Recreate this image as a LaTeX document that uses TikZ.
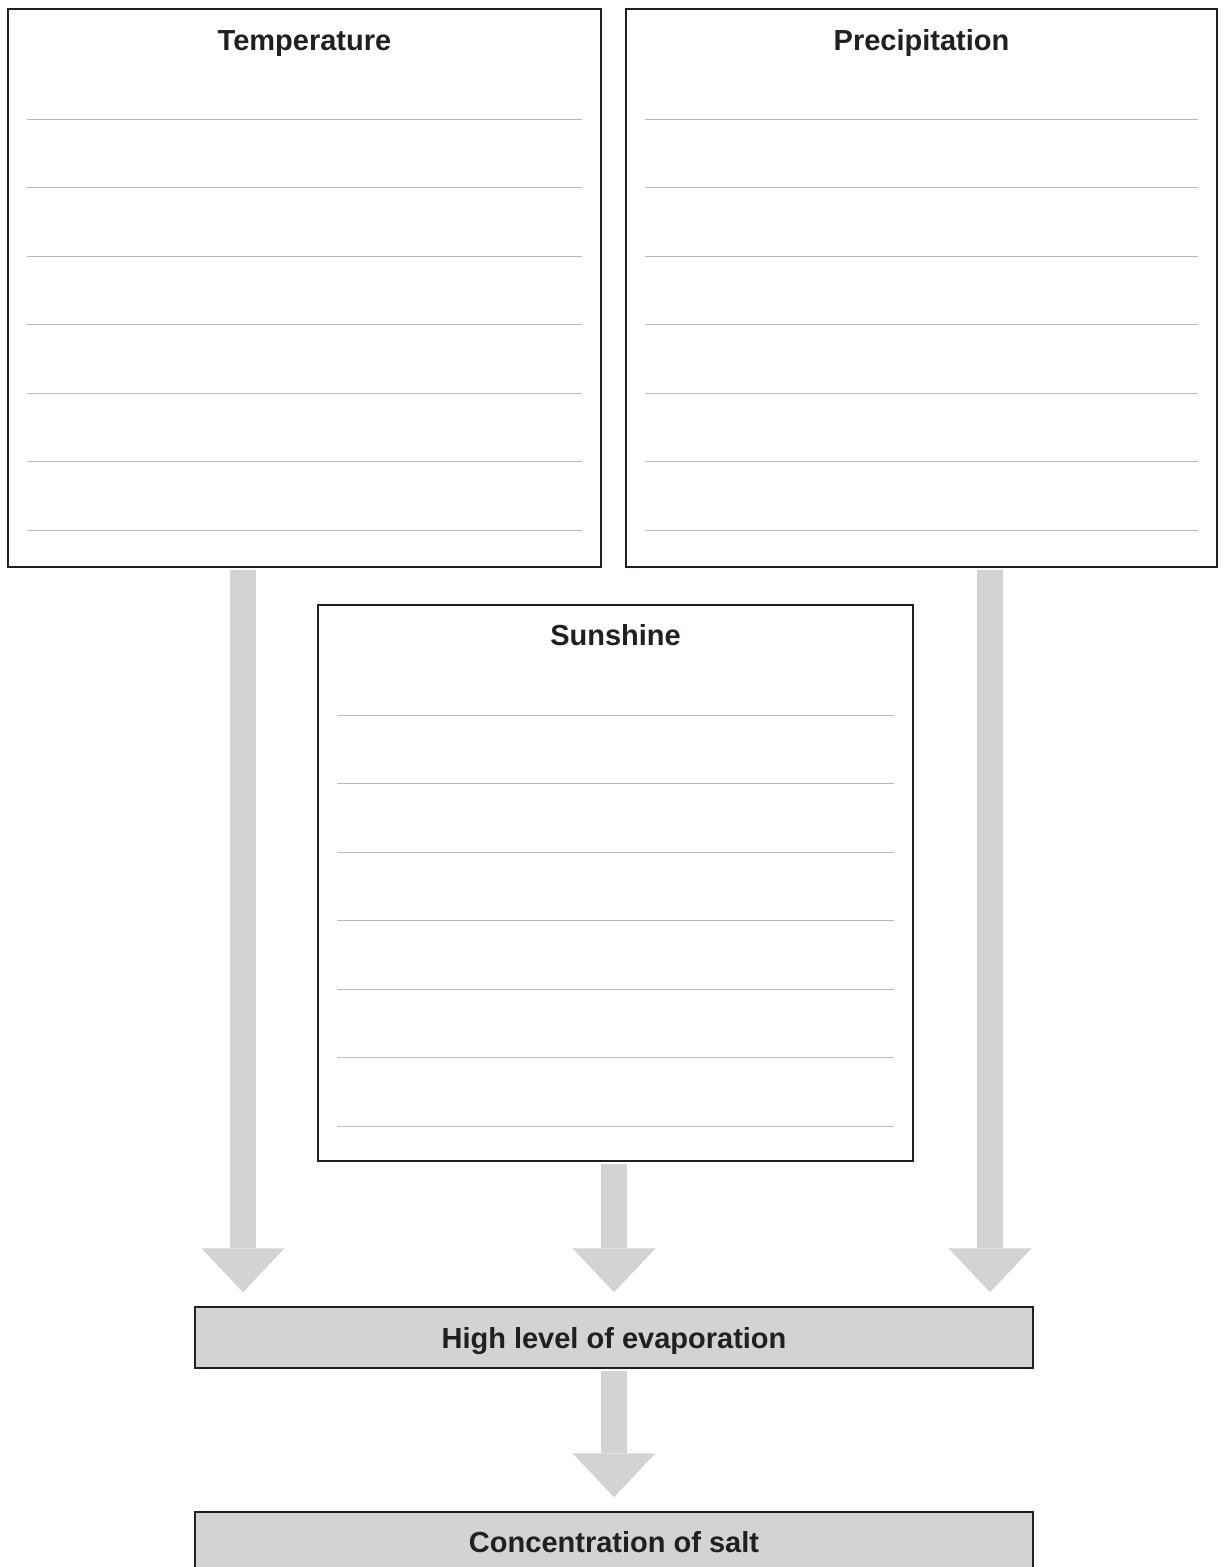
\documentclass[tikz,border=0pt]{standalone}
\usepackage{fontspec}
\setmainfont{Liberation Sans}
\usetikzlibrary{arrows.meta}
\tikzset{>=stealth}

\begin{document}
\begin{tikzpicture}[x=0.5pt,y=-0.5pt,
    box/.style={draw=boxline, line width=0.75pt, minimum width=296.5pt, minimum height=279pt, inner sep=0pt},
    title/.style={anchor=base, inner sep=0pt, font=\fontsize{14.5}{17}\selectfont\bfseries, text=boxline},
    bar/.style={box, fill=bargray, minimum width=419pt, minimum height=30.5pt, font=\fontsize{14.5}{17}\selectfont\bfseries, text=boxline},
    rule/.style={draw=rulegray, line width=0.5pt},
    fatarrow/.style={draw=bargray, line width=13pt, shorten <=1pt, shorten >=7pt, -{Triangle[width=41.5pt,length=22pt,line width=0pt]}}]
      \definecolor{boxline}{RGB}{35,31,32}
      \definecolor{bargray}{RGB}{209,211,212}
      \definecolor{rulegray}{RGB}{185,187,189}
\useasboundingbox (0,0) rectangle (1224,1567);

% three factor boxes with their titles
\node[box] (temp) at (304.5,288) {};
\node[box, minimum width=295.5pt] (prec) at (921.5,288) {};
\node[box, minimum width=297.5pt, minimum height=278pt] (sun) at (615.5,883) {};
\node[title] (temptitle) at ([yshift=-21pt]temp.north) {Temperature};
\node[title] (prectitle) at ([yshift=-21pt]prec.north) {Precipitation};
\node[title] (suntitle) at ([yshift=-20.5pt]sun.north) {Sunshine};

% writing lines in each box
\foreach \b in {temp,prec,sun}
  \foreach \i in {0,...,6}
    \draw[rule] ([xshift=10pt, yshift=-55.5pt-\i*34.25pt]\b.north west) -- ([xshift=-10pt, yshift=-55.5pt-\i*34.25pt]\b.north east);

% result bars (the last one runs off the page)
\node[bar, text depth=0pt] (evap) at (614,1337.5) {High level of evaporation};
\node[bar] (conc) at (614,1542.5) {Concentration of salt};

% fat arrows
\draw[fatarrow] ([xshift=-30.75pt]temp.south) -- ([xshift=-30.75pt]temp.south |- evap.north);
\draw[fatarrow] ([xshift=-0.75pt]sun.south) -- ([xshift=-0.75pt]sun.south |- evap.north);
\draw[fatarrow] ([xshift=34.25pt]prec.south) -- ([xshift=34.25pt]prec.south |- evap.north);
\draw[fatarrow] (evap.south) -- (conc.north);
\end{tikzpicture}
\end{document}
